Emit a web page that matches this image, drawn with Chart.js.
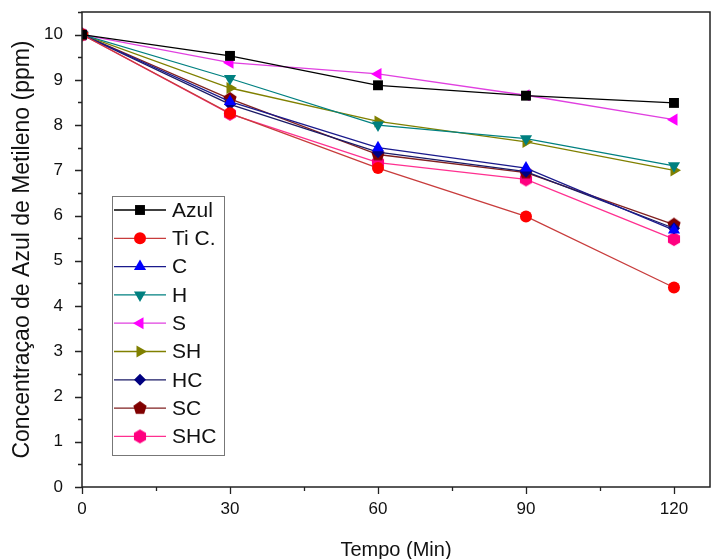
<!DOCTYPE html>
<html>
<head>
<meta charset="utf-8">
<script src="https://cdn.jsdelivr.net/npm/chart.js@4/dist/chart.umd.min.js"></script>
<style>
  html, body { margin: 0; padding: 0; background: #fff; overflow: hidden; }
  #wrap { width: 711px; height: 559px; overflow: hidden; }
</style>
</head>
<body>
<div id="wrap"><canvas id="chart" width="717" height="559"></canvas></div>
<script>
// ===== data =====
const times = [0, 30, 60, 90, 120];
const xTicks = [0, 30, 60, 90, 120];
const yTicks = [0, 1, 2, 3, 4, 5, 6, 7, 8, 9, 10];

const azul = [10, 9.53, 8.88, 8.65, 8.49];
const tiC  = [10, 8.26, 7.05, 5.98, 4.41];
const cC   = [10, 8.52, 7.50, 7.05, 5.68];
const hH   = [10, 9.03, 8.00, 7.70, 7.10];
const sS   = [10, 9.38, 9.13, 8.66, 8.12];
const sh   = [10, 8.82, 8.08, 7.63, 7.00];
const hc   = [10, 8.46, 7.40, 6.97, 5.72];
const sc   = [10, 8.58, 7.35, 6.95, 5.80];
const shc  = [10, 8.25, 7.17, 6.80, 5.48];

const FONT = "'Liberation Sans', Arial, sans-serif";

// polygon markers (pentagon / hexagon) as small canvases
function polyMarker(n, r, color, rot) {
  const size = r * 2 + 2;
  const c = document.createElement("canvas");
  c.width = size; c.height = size;
  const g = c.getContext("2d");
  g.beginPath();
  for (let i = 0; i < n; i++) {
    const a = rot + i * 2 * Math.PI / n;
    const px = size / 2 + r * Math.cos(a);
    const py = size / 2 + r * Math.sin(a);
    if (i === 0) g.moveTo(px, py); else g.lineTo(px, py);
  }
  g.closePath();
  g.fillStyle = color;
  g.fill();
  return c;
}

const pentagon = polyMarker(5, 7, "#800000", -Math.PI / 2);
const hexagon = polyMarker(6, 7, "#ff0080", -Math.PI / 2);

function ds(label, data, line, fill, style, radius, rot) {
  return {
    label,
    data: data.map((v, i) => ({ x: times[i], y: v })),
    borderColor: line,
    backgroundColor: fill,
    pointBackgroundColor: fill,
    pointBorderColor: fill,
    pointBorderWidth: 0,
    borderWidth: 1.3,
    pointStyle: style,
    pointRadius: radius,
    pointRotation: rot || 0,
    tension: 0,
  };
}

const datasets = [
  ds("Azul", azul, "#000000", "#000000", "rect", 7),
  ds("Ti C.", tiC, "#c83c3c", "#ff0000", "circle", 6),
  ds("C", cC, "#1a1a8c", "#0000ff", "triangle", 7),
  ds("H", hH, "#008080", "#008080", "triangle", 7, 180),
  ds("S", sS, "#e040e0", "#ff00ff", "triangle", 7, -90),
  ds("SH", sh, "#808000", "#808000", "triangle", 7, 90),
  ds("HC", hc, "#1a1a66", "#000080", "rectRot", 6),
  ds("SC", sc, "#802020", "#800000", pentagon, 7),
  ds("SHC", shc, "#ff3090", "#ff0080", hexagon, 7),
];

// frame, ticks and legend box
const framePlugin = {
  id: "frame",
  afterDraw(chart) {
    const { ctx, chartArea: a, scales } = chart;
    ctx.save();
    ctx.strokeStyle = "#222";
    ctx.lineWidth = 1.5;
    ctx.strokeRect(a.left, a.top, a.right - a.left, a.bottom - a.top);

    ctx.lineWidth = 1.3;
    ctx.beginPath();
    for (let v = 0; v <= 10.5; v += 0.5) {
      const y = Math.round(scales.y.getPixelForValue(v)) + 0.5;
      const len = Number.isInteger(v) ? 7 : 4;
      ctx.moveTo(a.left, y); ctx.lineTo(a.left - len, y);
    }
    for (let v = 0; v <= 125; v += 15) {
      const x = Math.round(scales.x.getPixelForValue(v)) + 0.5;
      const len = v % 30 === 0 ? 7 : 4;
      ctx.moveTo(x, a.bottom); ctx.lineTo(x, a.bottom + len);
    }
    ctx.stroke();

    // legend
    const lx = a.left + 30, ly = a.top + 184, lw = 112, lh = 259;
    ctx.fillStyle = "#fff";
    ctx.fillRect(lx, ly, lw, lh);
    ctx.strokeStyle = "#777";
    ctx.lineWidth = 1;
    ctx.strokeRect(lx + 0.5, ly + 0.5, lw, lh);
    ctx.font = "21px " + FONT;
    ctx.textBaseline = "middle";
    chart.data.datasets.forEach((d, i) => {
      const y = ly + 14 + i * 28.3;
      ctx.strokeStyle = d.borderColor;
      ctx.lineWidth = 1.3;
      ctx.beginPath();
      ctx.moveTo(lx + 2, y); ctx.lineTo(lx + 54, y);
      ctx.stroke();
      ctx.fillStyle = d.pointBackgroundColor;
      ctx.strokeStyle = d.pointBackgroundColor;
      Chart.helpers.drawPoint(ctx, {
        pointStyle: d.pointStyle, radius: d.pointRadius, rotation: d.pointRotation, borderWidth: 0,
      }, lx + 28, y);
      ctx.fillStyle = "#111";
      ctx.fillText(d.label, lx + 60, y + 1);
    });
    ctx.restore();
  },
};

const noPad = (s) => {
  s.paddingTop = 0; s.paddingBottom = 0; s.paddingLeft = 0; s.paddingRight = 0;
};

new Chart(document.getElementById("chart"), {
  type: "line",
  data: { datasets },
  plugins: [framePlugin],
  options: {
    responsive: false,
    animation: false,
    layout: { padding: { top: 12, right: 0, left: 0, bottom: 0 } },
    plugins: { legend: { display: false }, tooltip: { enabled: false } },
    scales: {
      x: {
        type: "linear",
        min: 0,
        max: 127.3,
        afterBuildTicks: (s) => { s.ticks = xTicks.map(v => ({ value: v })); },
        afterFit: (s) => { s.height = 72; noPad(s); },
        grid: { display: false, drawTicks: false },
        border: { display: false },
        ticks: { color: "#111", font: { family: FONT, size: 17 }, padding: 12, maxRotation: 0 },
        title: { display: true, text: "Tempo (Min)", color: "#111", font: { family: FONT, size: 20 }, padding: { top: 4, bottom: -3 } },
      },
      y: {
        min: 0,
        max: 10.5,
        afterBuildTicks: (s) => { s.ticks = yTicks.map(v => ({ value: v })); },
        afterFit: (s) => { s.width = 82; noPad(s); },
        grid: { display: false, drawTicks: false },
        border: { display: false },
        ticks: { color: "#111", font: { family: FONT, size: 17 }, padding: 19 },
        title: { display: true, text: "Concentraçao de Azul de Metileno (ppm)", color: "#111", font: { family: FONT, size: 23 }, padding: { top: 9, bottom: 2 } },
      },
    },
  },
});
</script>
</body>
</html>
